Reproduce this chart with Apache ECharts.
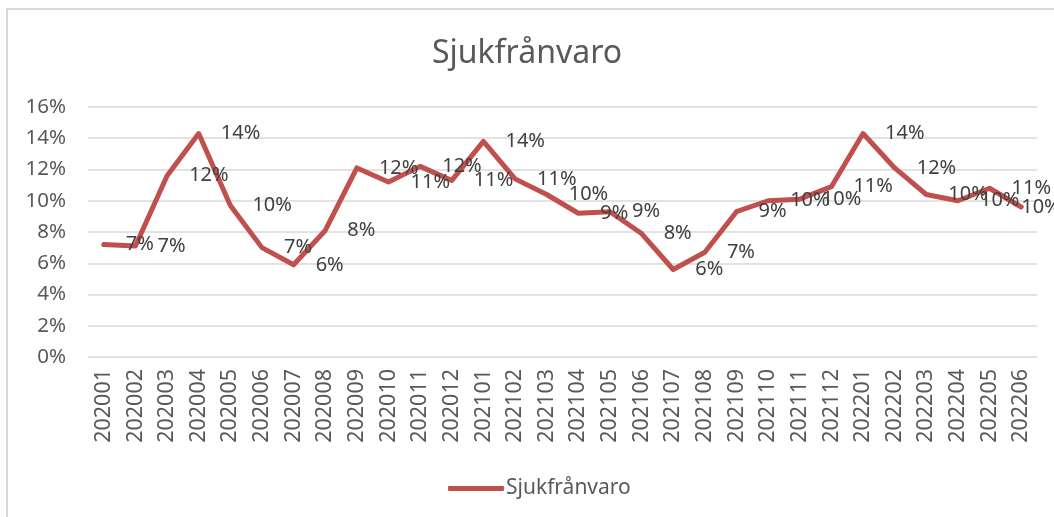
<!DOCTYPE html>
<html>
<head>
<meta charset="utf-8">
<script src="https://cdn.jsdelivr.net/npm/echarts@6/dist/echarts.min.js"></script>
<style>
  html, body { margin: 0; padding: 0; background: #fff; }
  #frame {
    position: absolute; left: 6px; top: 8px; right: -4px; bottom: -4px;
    border-top: 2px solid #d9d9d9; border-left: 2px solid #d9d9d9;
  }
  #chart { position: absolute; left: 0; top: 0; width: 1054px; height: 517px; }
</style>
</head>
<body>
<div id="frame"></div>
<div id="chart"></div>
<script>
const months = [
  '202001', '202002', '202003', '202004', '202005', '202006', '202007', '202008', '202009', '202010',
  '202011', '202012', '202101', '202102', '202103', '202104', '202105', '202106', '202107', '202108',
  '202109', '202110', '202111', '202112', '202201', '202202', '202203', '202204', '202205', '202206'
];

// sick leave share per month
const sickLeave = [
  0.072, 0.071, 0.116, 0.143, 0.097, 0.070, 0.059, 0.081, 0.121, 0.112,
  0.122, 0.113, 0.138, 0.114, 0.104, 0.092, 0.093, 0.079, 0.056, 0.067,
  0.093, 0.100, 0.101, 0.109, 0.143, 0.121, 0.104, 0.100, 0.108, 0.096
];

const yTicks = { min: 0, max: 0.16, interval: 0.02 };

const pct = (v) => Math.round(v * 100) + '%';
const textColor = '#595959';
const lineColor = '#c0504d';
const fontFamily = '"Noto Sans", "Open Sans", sans-serif';

const chart = echarts.init(document.getElementById('chart'), null, { renderer: 'canvas' });

// last label hugs the right edge like the original
const seriesData = sickLeave.map((v, i) =>
  i === sickLeave.length - 1 ? { value: v, label: { distance: 0 } } : v
);

chart.setOption({
  animation: false,
  textStyle: { fontFamily },
  title: {
    text: 'Sjukfrånvaro',
    left: 'center',
    top: 33,
    textStyle: { fontSize: 32, fontWeight: 'normal', color: textColor, fontFamily }
  },
  legend: {
    bottom: 13,
    left: 443,
    icon: 'roundRect',
    itemWidth: 56,
    itemHeight: 5,
    itemStyle: { color: lineColor },
    textStyle: { fontSize: 21, color: textColor, fontFamily, padding: [0, 0, 0, -3] },
    data: ['Sjukfrånvaro']
  },
  grid: { left: 88, right: 17, top: 107, bottom: 160 },
  xAxis: {
    type: 'category',
    data: months,
    boundaryGap: true,
    axisLine: { show: false },
    axisTick: { show: false },
    axisLabel: { rotate: 90, margin: 12, fontSize: 21.5, color: textColor, interval: 0, fontFamily }
  },
  yAxis: {
    type: 'value',
    min: yTicks.min,
    max: yTicks.max,
    interval: yTicks.interval,
    axisLine: { show: false },
    axisTick: { show: false },
    axisLabel: { formatter: pct, margin: 22, fontSize: 20.5, color: textColor, fontFamily },
    splitLine: { lineStyle: { color: '#d9d9d9', width: 1.5 } }
  },
  series: [{
    name: 'Sjukfrånvaro',
    type: 'line',
    data: seriesData,
    symbol: 'circle',
    symbolSize: 0.1,
    showSymbol: true,
    lineStyle: { color: lineColor, width: 5, cap: 'round', join: 'round' },
    itemStyle: { color: lineColor },
    label: {
      show: true,
      position: 'right',
      distance: 22,
      formatter: (p) => pct(p.value),
      fontSize: 20,
      color: '#404040',
      fontFamily
    },
    labelLayout: { hideOverlap: false }
  }]
});
</script>
</body>
</html>
